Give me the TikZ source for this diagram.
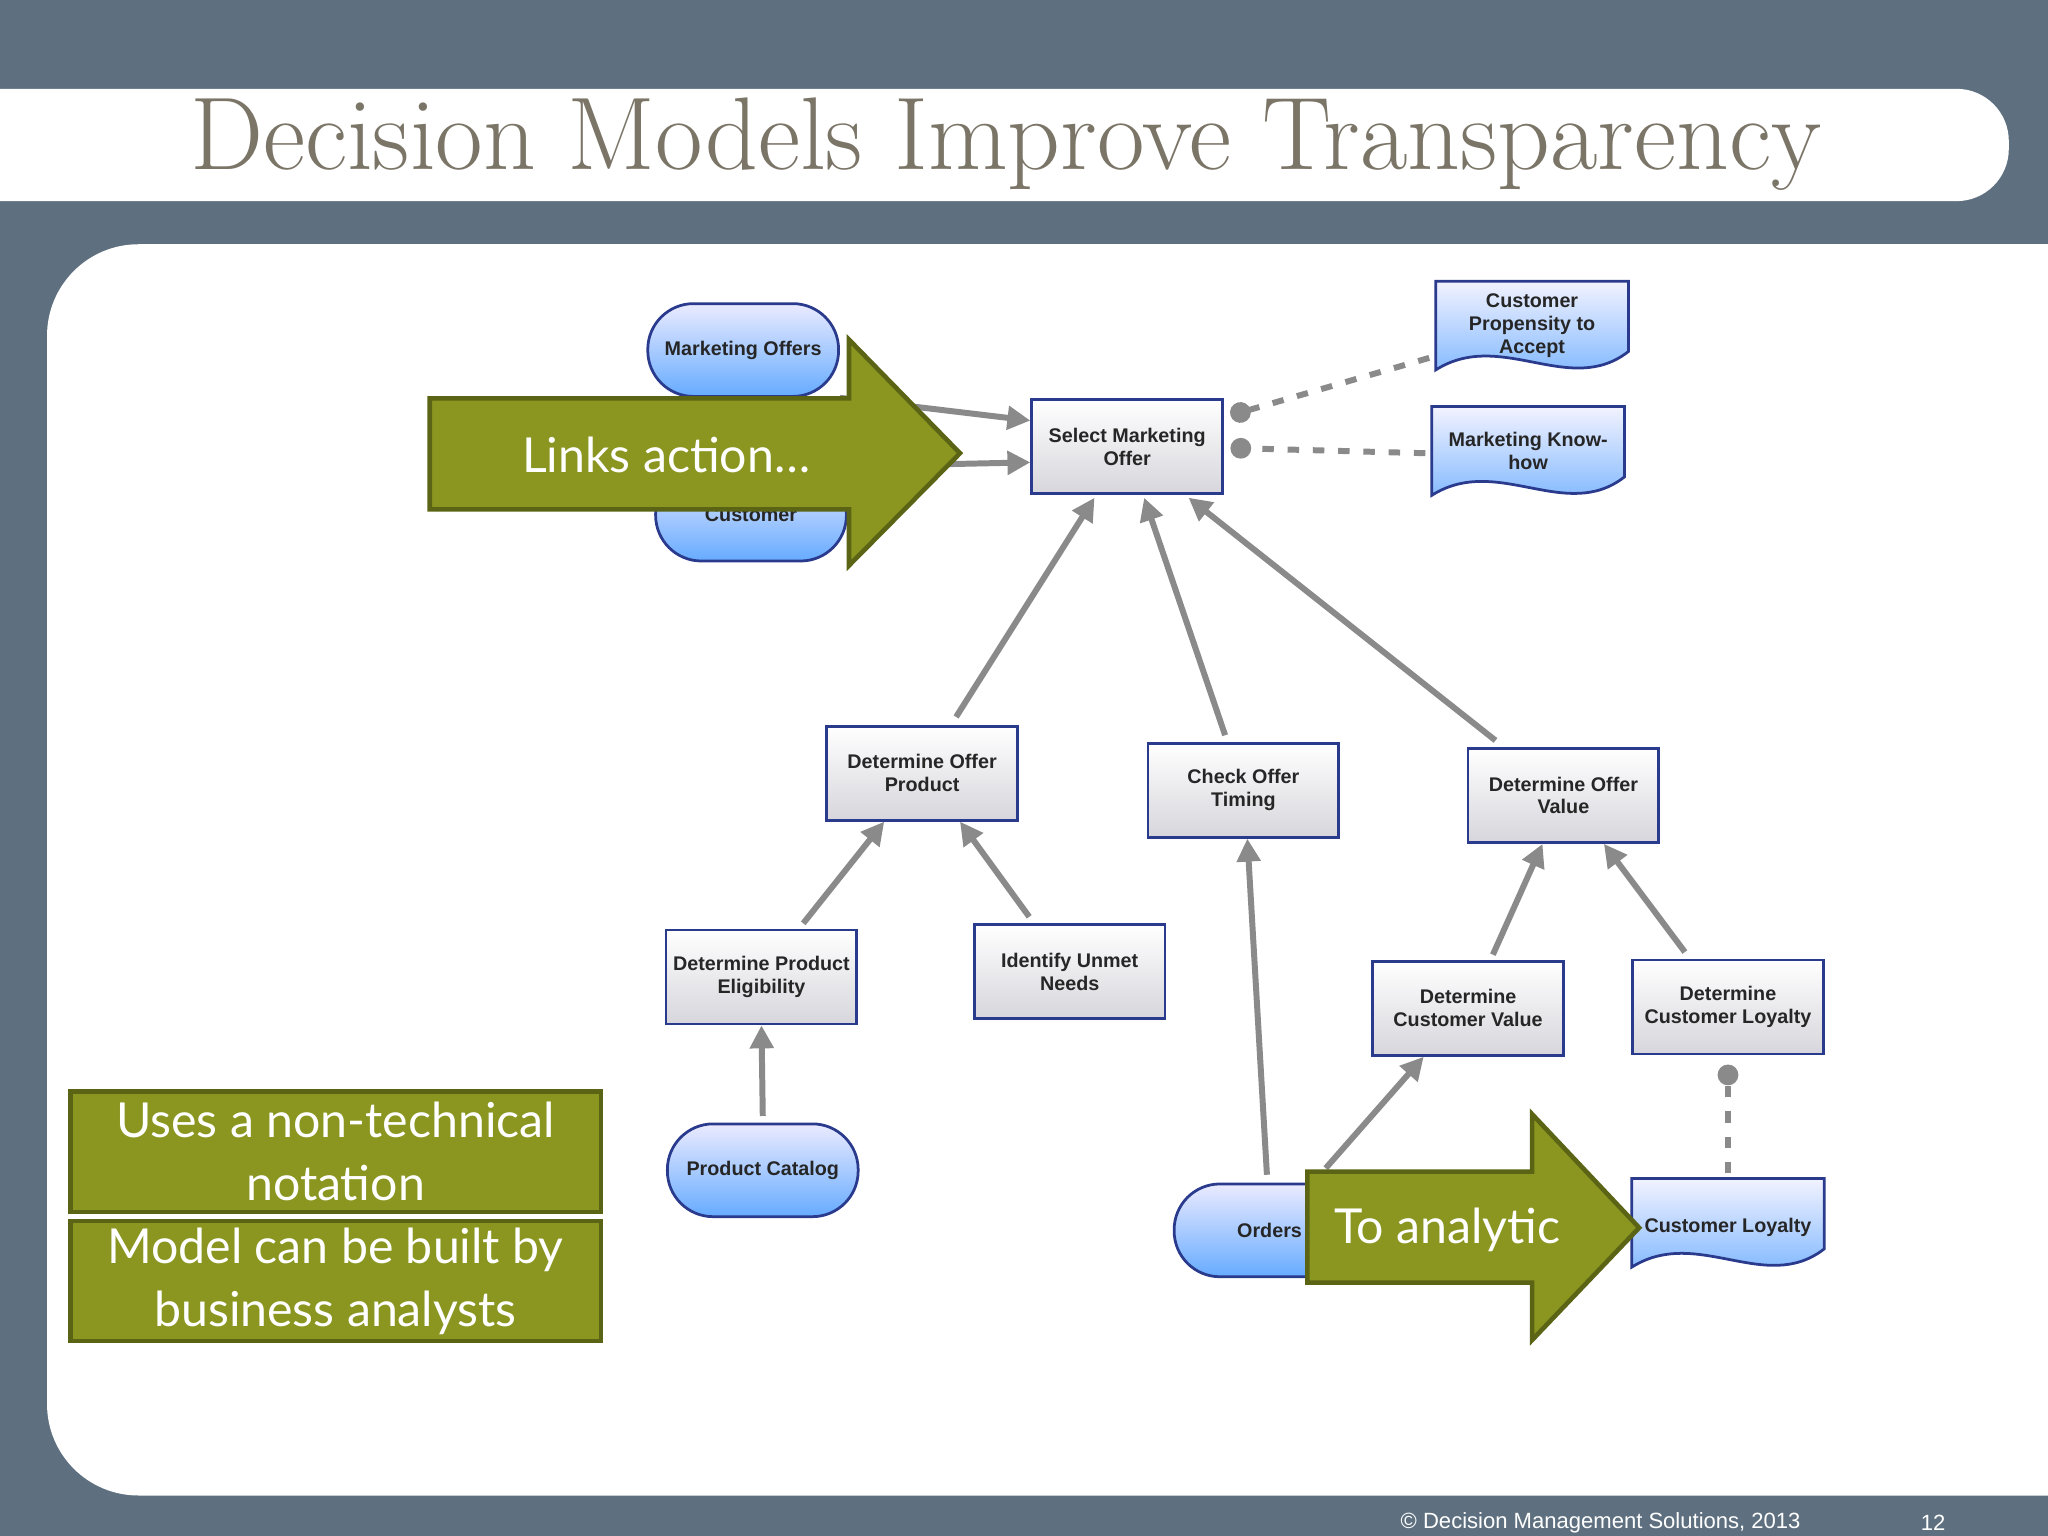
\documentclass[tikz,border=0pt]{standalone}
\usepackage{fontspec}
\newfontfamily\afont{Liberation Sans}
\newfontfamily\gfont{Lato}
\usetikzlibrary{arrows.meta,calc}
\definecolor{slate}{HTML}{5E7080}
\definecolor{olive}{HTML}{8A9620}
\definecolor{olived}{HTML}{5B6414}
\definecolor{nblue}{HTML}{2A3A8C}
\definecolor{ltitle}{HTML}{7B7568}
\definecolor{conn}{HTML}{8A8A8A}
\tikzset{
 x=0.01cm,y=-0.01cm,
 dec/.style={draw=nblue,line width=0.6pt,top color=white,bottom color=blue!8!gray!30,minimum width=1.46cm,minimum height=0.72cm,align=center,font=\afont\bfseries\fontsize{4.3}{5}\selectfont,text=black!85,inner sep=1pt},
 inp/.style={draw=nblue,line width=0.6pt,top color=blue!8,bottom color=blue!55!cyan!60,rounded corners=0.35cm,minimum width=1.46cm,minimum height=0.71cm,align=center,font=\afont\bfseries\fontsize{4.3}{5}\selectfont,text=black!85},
 ktext/.style={minimum width=1.46cm,minimum height=0.70cm,align=center,font=\afont\bfseries\fontsize{4.3}{5}\selectfont,text=black!85,inner sep=1pt},
 req/.style={conn,line width=1.3pt,-{Triangle[length=5pt,width=5pt]}},
 kreq/.style={conn,line width=1.3pt,dash pattern=on 2.5pt off 3pt,-{Circle[length=4.5pt]}},
 garrow/.style={fill=olive,draw=olived,line width=1pt},
 gtext/.style={text=white,font=\gfont\fontsize{10.5}{13.7}\selectfont,align=center},
}
\newcommand{\docshape}[1]{%
 \path[draw=nblue,line width=0.6pt,top color=blue!5,bottom color=blue!55!cyan!60]
 (#1.north west) -- (#1.north east) -- ([yshift=5pt]#1.south east)
 .. controls ([xshift=-0.45cm,yshift=-5pt]#1.south east) and ([xshift=0.5cm,yshift=10pt]#1.south west) .. ([yshift=1pt]#1.south west) -- cycle;}
\begin{document}
\begin{tikzpicture}
\useasboundingbox (0,0) rectangle (1568,1176);
\fill[slate] (0,0) rectangle (1568,1176);
\fill[white,rounded corners=0.4cm] (-50,68) rectangle (1538,154);
\node[text=ltitle,font=\fontsize{22.5}{26}\selectfont,anchor=center] (title) at (770,110) {Decision Models Improve Transparency};
\fill[white,rounded corners=0.7cm] (36,187) rectangle (1700,1145);
\node[text=white,font=\afont\fontsize{4.8}{6}\selectfont,anchor=west] (foot) at (1060,1166) {© Decision Management Solutions, 2013};
\node[text=white,font=\afont\fontsize{4.8}{6}\selectfont] (pg) at (1480,1166) {12};

% nodes
\node[inp] (mo) at (569,268) {Marketing Offers};
\node[inp] (cu) at (575,394) {Customer};
\node[dec] (smo) at (863,342) {Select Marketing\\Offer};
\node[ktext] (cpa) at (1173,251) {};
\docshape{cpa}
\node[ktext] at (1173,249) {Customer\\Propensity to\\Accept};
\node[ktext] (mkh) at (1170,347) {};
\docshape{mkh}
\node[ktext] at (1170,345) {Marketing Know-\\how};
\node[dec] (dop) at (706,592) {Determine Offer\\Product};
\node[dec] (cot) at (952,605) {Check Offer\\Timing};
\node[dec] (dov) at (1197,609) {Determine Offer\\Value};
\node[dec] (dpe) at (583,748) {Determine Product\\Eligibility};
\node[dec] (iun) at (819,744) {Identify Unmet\\Needs};
\node[dec] (dcv) at (1124,772) {Determine\\Customer Value};
\node[dec] (dcl) at (1323,771) {Determine\\Customer Loyalty};
\node[inp] (pc) at (584,896) {Product Catalog};
\node[inp] (ord) at (972,942) {Orders};
\node[ktext] (cl) at (1323,938) {};
\docshape{cl}
\node[ktext] at (1323,940) {Customer Loyalty};

% connectors
\draw[req] (mo.south east) -- ($(smo.west)+(0,-20)$);
\draw[req] ($(cu.north east)+(-20,0)$) -- ($(smo.west)+(0,12)$);
\draw[req] ($(dop.north)+(26,-6)$) -- ($(smo.south)+(-25,2)$);
\draw[req] ($(cot.north)+(-14,-5)$) -- ($(smo.south)+(13,2)$);
\draw[req] ($(dov.north)+(-52,-5)$) -- ($(smo.south)+(47,2)$);
\draw[req] ($(dpe.north)+(32,-4)$) -- ($(dop.south)+(-29,0)$);
\draw[req] ($(iun.north)+(-31,-5)$) -- ($(dop.south)+(29,0)$);
\draw[req] ($(pc.north)+(0,-5)$) -- (dpe.south);
\draw[req] ($(ord.north)+(-2,-6)$) -- ($(cot.south)+(3,0)$);
\draw[req] ($(ord.north)+(43,-11)$) -- ($(dcv.south)+(-34,0)$);
\draw[req] ($(dcv.north)+(19,-4)$) -- ($(dov.south)+(-16,0)$);
\draw[req] ($(dcl.north)+(-33,-5)$) -- ($(dov.south)+(31,0)$);
\draw[kreq] ($(cpa.west)+(-5,23)$) -- ($(smo.east)+(5,-24)$);
\draw[kreq] ($(mkh.west)+(-5,0)$) -- ($(smo.east)+(5,1)$);
\draw[kreq] ($(cl.north)+(0,-4)$) -- ($(dcl.south)+(0,7)$);

% green arrows and boxes
\path[garrow] (329,305) -- (650,305) -- (650,260) -- (735,347) -- (650,433) -- (650,390) -- (329,390) -- cycle;
\node[gtext] (la) at (510,348) {Links action…};
\path[garrow] (1001,897) -- (1173,897) -- (1173,853) -- (1255,940) -- (1173,1026) -- (1173,982) -- (1001,982) -- cycle;
\node[gtext] (ta) at (1108,942) {To analytic};
\node[garrow,minimum width=4.06cm,minimum height=0.92cm,anchor=north west] (b1) at (52,834) {};
\node[gtext] at (b1) {Uses a non-technical\\notation};
\node[garrow,minimum width=4.06cm,minimum height=0.92cm,anchor=north west] (b2) at (52,933) {};
\node[gtext] at (b2) {Model can be built by\\business analysts};
\end{tikzpicture}
\end{document}
